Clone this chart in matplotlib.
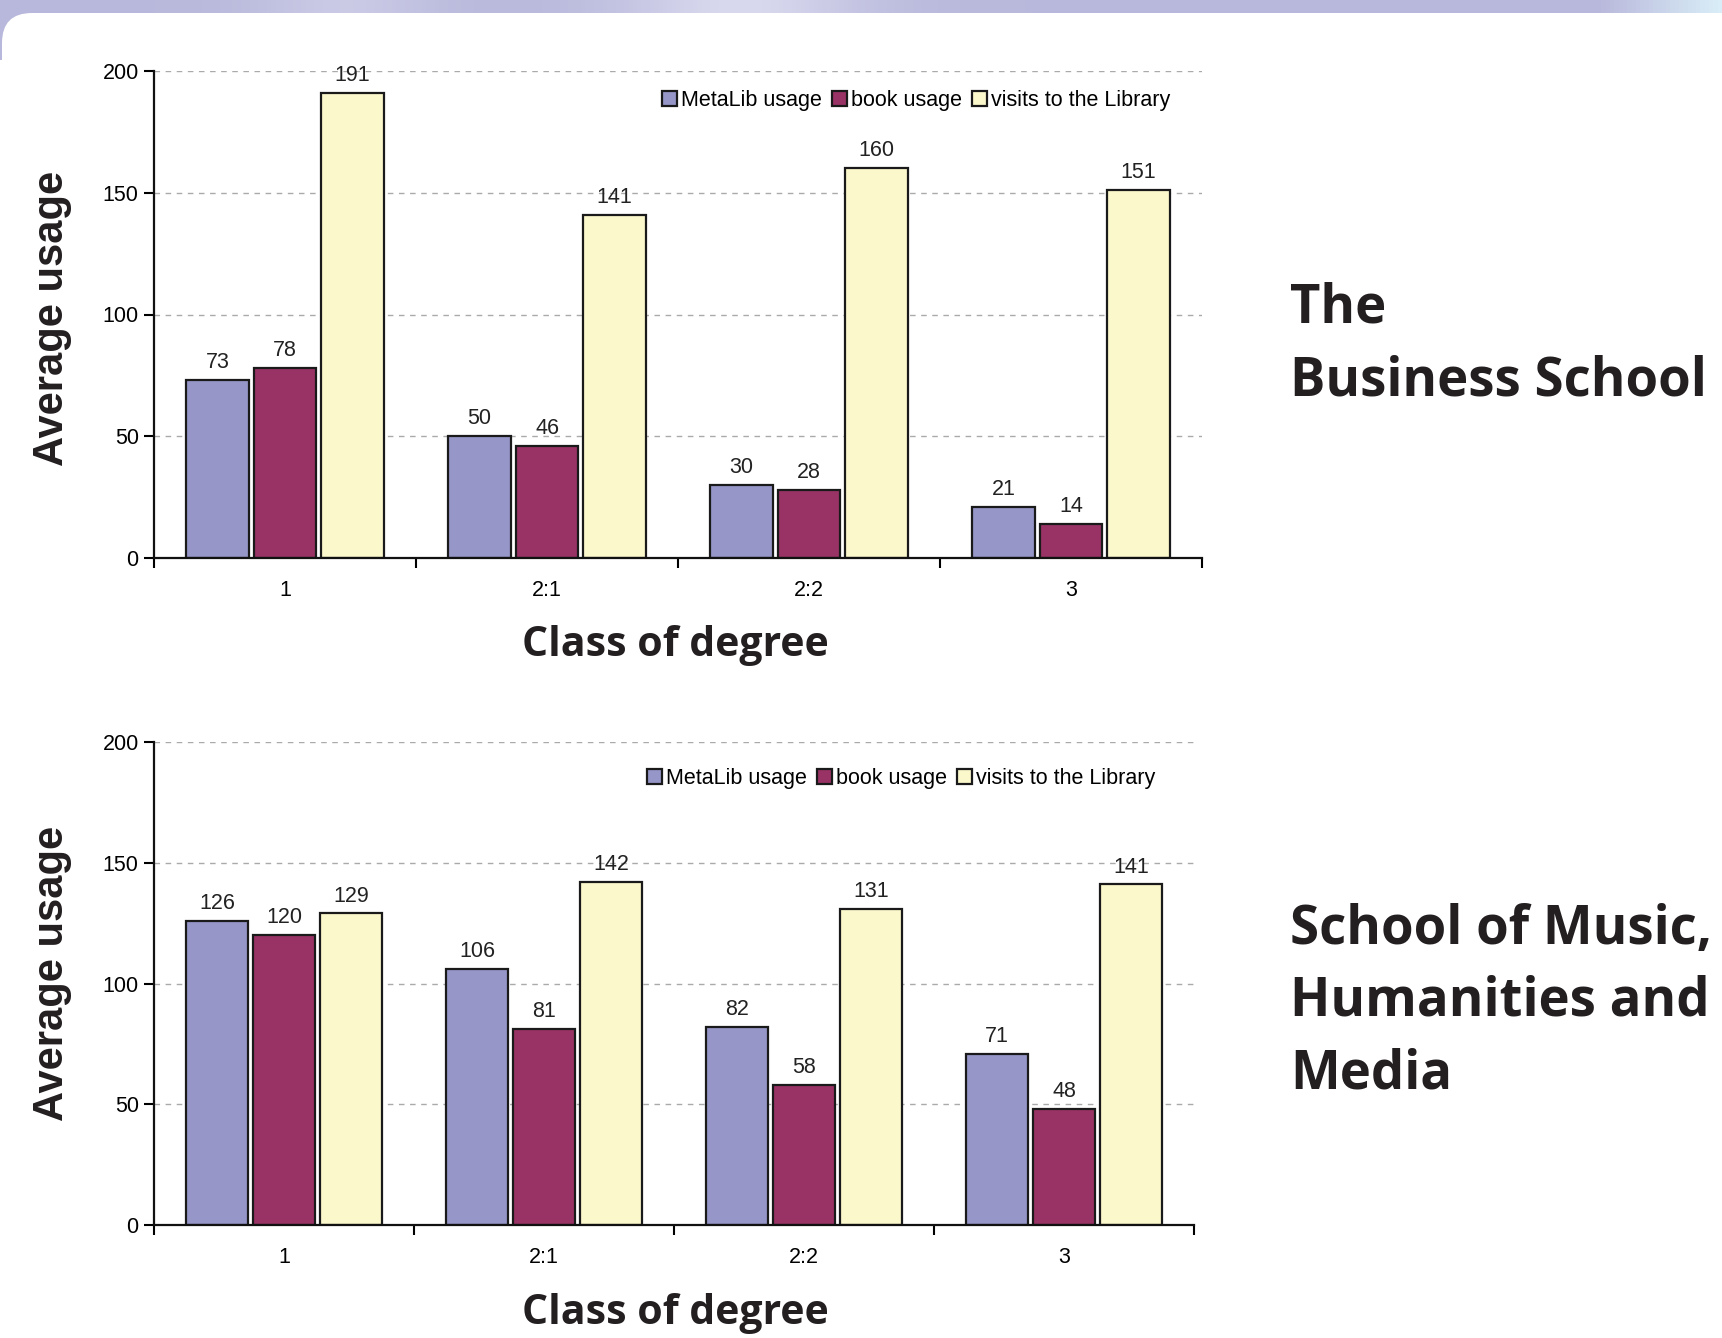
import numpy as np
import matplotlib
matplotlib.use("Agg")
import matplotlib.pyplot as plt
from matplotlib.patches import FancyBboxPatch

categories = ["1", "2:1", "2:2", "3"]
series_names = ["MetaLib usage", "book usage", "visits to the Library"]

business_metalib = [73, 50, 30, 21]
business_book = [78, 46, 28, 14]
business_visits = [191, 141, 160, 151]

music_metalib = [126, 106, 82, 71]
music_book = [120, 81, 58, 48]
music_visits = [129, 142, 131, 141]

yticks = [0, 50, 100, 150, 200]

colors = ["#9696c8", "#993366", "#fbf8cc"]
W, H = 1722, 1338
DPI = 100

fig = plt.figure(figsize=(W / DPI, H / DPI), dpi=DPI)
fig.patch.set_facecolor("white")

# Background decoration: purple banner with a rounded white panel
bg = fig.add_axes([0, 0, 1, 1], zorder=-10)
bg.set_xlim(0, W)
bg.set_ylim(H, 0)
bg.axis("off")
grad = np.linspace(0, 1, 400)
base = np.array([0.725, 0.725, 0.863])
light = np.array([0.86, 0.86, 0.94])
cyan = np.array([0.85, 0.93, 0.97])
img = np.zeros((1, 400, 3))
for i, g in enumerate(grad):
    c = base.copy()
    bump = np.exp(-((g - 0.2) / 0.05) ** 2) * 0.5 + np.exp(-((g - 0.43) / 0.07) ** 2) * 0.9
    c = c + (light - c) * min(bump, 1)
    if g > 0.93:
        t = (g - 0.93) / 0.07
        c = c + (cyan - c) * t
    img[0, i] = c
bg.imshow(img, extent=[0, W, 60, 0], aspect="auto", zorder=0)
bg.add_patch(FancyBboxPatch((2 + 30, 13 + 30), W + 200, H + 200,
                            boxstyle="round,pad=30,rounding_size=30",
                            facecolor="white", edgecolor="none", zorder=1))

TICK_FS = 15.5


def draw_chart(ax, mdata, bdata, vdata, legend_x, legend_y):
    x = np.arange(len(categories))
    width = 0.24
    offs = [-0.258, 0.0, 0.258]
    for data, off, col, name in zip([mdata, bdata, vdata], offs, colors, series_names):
        bars = ax.bar(x + off, data, width, color=col, edgecolor="#1a1a1a",
                      linewidth=1.6, label=name, zorder=3)
        for rect, v in zip(bars, data):
            ax.annotate(str(v), (rect.get_x() + rect.get_width() / 2, rect.get_height()),
                        xytext=(0, 5), textcoords="offset points", ha="center", va="bottom",
                        fontsize=TICK_FS, family="Liberation Sans", color="#222222")
    ax.set_xlim(-0.5, 3.5)
    ax.set_ylim(0, 200)
    ax.set_yticks(yticks)
    ax.set_yticklabels([str(t) for t in yticks], fontsize=TICK_FS, family="Liberation Sans")
    ax.set_xticks(np.arange(-0.5, 4.0, 1.0))
    ax.set_xticklabels([])
    ax.set_xticks(x, minor=True)
    ax.set_xticklabels(categories, minor=True, fontsize=TICK_FS, family="Liberation Sans")
    ax.tick_params(axis="x", which="minor", length=0, pad=16)
    ax.tick_params(axis="x", which="major", length=7, width=1.5, direction="out")
    ax.tick_params(axis="y", length=7, width=1.5, direction="out", pad=4)
    for s in ["top", "right"]:
        ax.spines[s].set_visible(False)
    for s in ["left", "bottom"]:
        ax.spines[s].set_linewidth(1.6)
        ax.spines[s].set_color("#111111")
    ax.yaxis.grid(True, linestyle=(0, (4, 4)), color="#aaaaaa", linewidth=1.0, zorder=0)
    ax.set_axisbelow(True)
    ax.spines["bottom"].set_zorder(5)
    leg = ax.legend(loc="center right", bbox_to_anchor=(legend_x, legend_y), ncol=3, frameon=False,
                    prop={"family": "Liberation Sans", "size": 15.5},
                    handlelength=0.7, handleheight=0.7, handletextpad=0.2, columnspacing=0.45,
                    borderaxespad=0, borderpad=0)
    for h in leg.legend_handles:
        h.set_linewidth(1.6)


ax1 = fig.add_axes([154 / W, 1 - 558 / H, (1202 - 154) / W, (558 - 71) / H])
draw_chart(ax1, business_metalib, business_book, business_visits, 0.97, 0.94)

ax2 = fig.add_axes([154 / W, 1 - 1225 / H, (1194 - 154) / W, (1225 - 742) / H])
draw_chart(ax2, music_metalib, music_book, music_visits, 0.963, 0.925)

label_color = "#231f20"
for yc in [318, 973]:
    fig.text(52 / W, 1 - yc / H, "Average usage", rotation=90, ha="center", va="center",
             fontsize=30, fontweight="bold", family="Liberation Sans", color=label_color)
for yc in [646, 1314]:
    fig.text(675 / W, 1 - yc / H, "Class of degree", ha="center", va="center",
             fontsize=29.5, fontweight="bold", family="Open Sans", color=label_color)

fig.text(1290 / W, 1 - 345 / H, "The\nBusiness School", ha="left", va="center",
         fontsize=38, fontweight="bold", family="Open Sans", color=label_color,
         linespacing=1.45)
fig.text(1290 / W, 1 - 1002 / H, "School of Music,\nHumanities and\nMedia", ha="left", va="center",
         fontsize=38, fontweight="bold", family="Open Sans", color=label_color,
         linespacing=1.45)

fig.savefig("out.png", dpi=DPI)
